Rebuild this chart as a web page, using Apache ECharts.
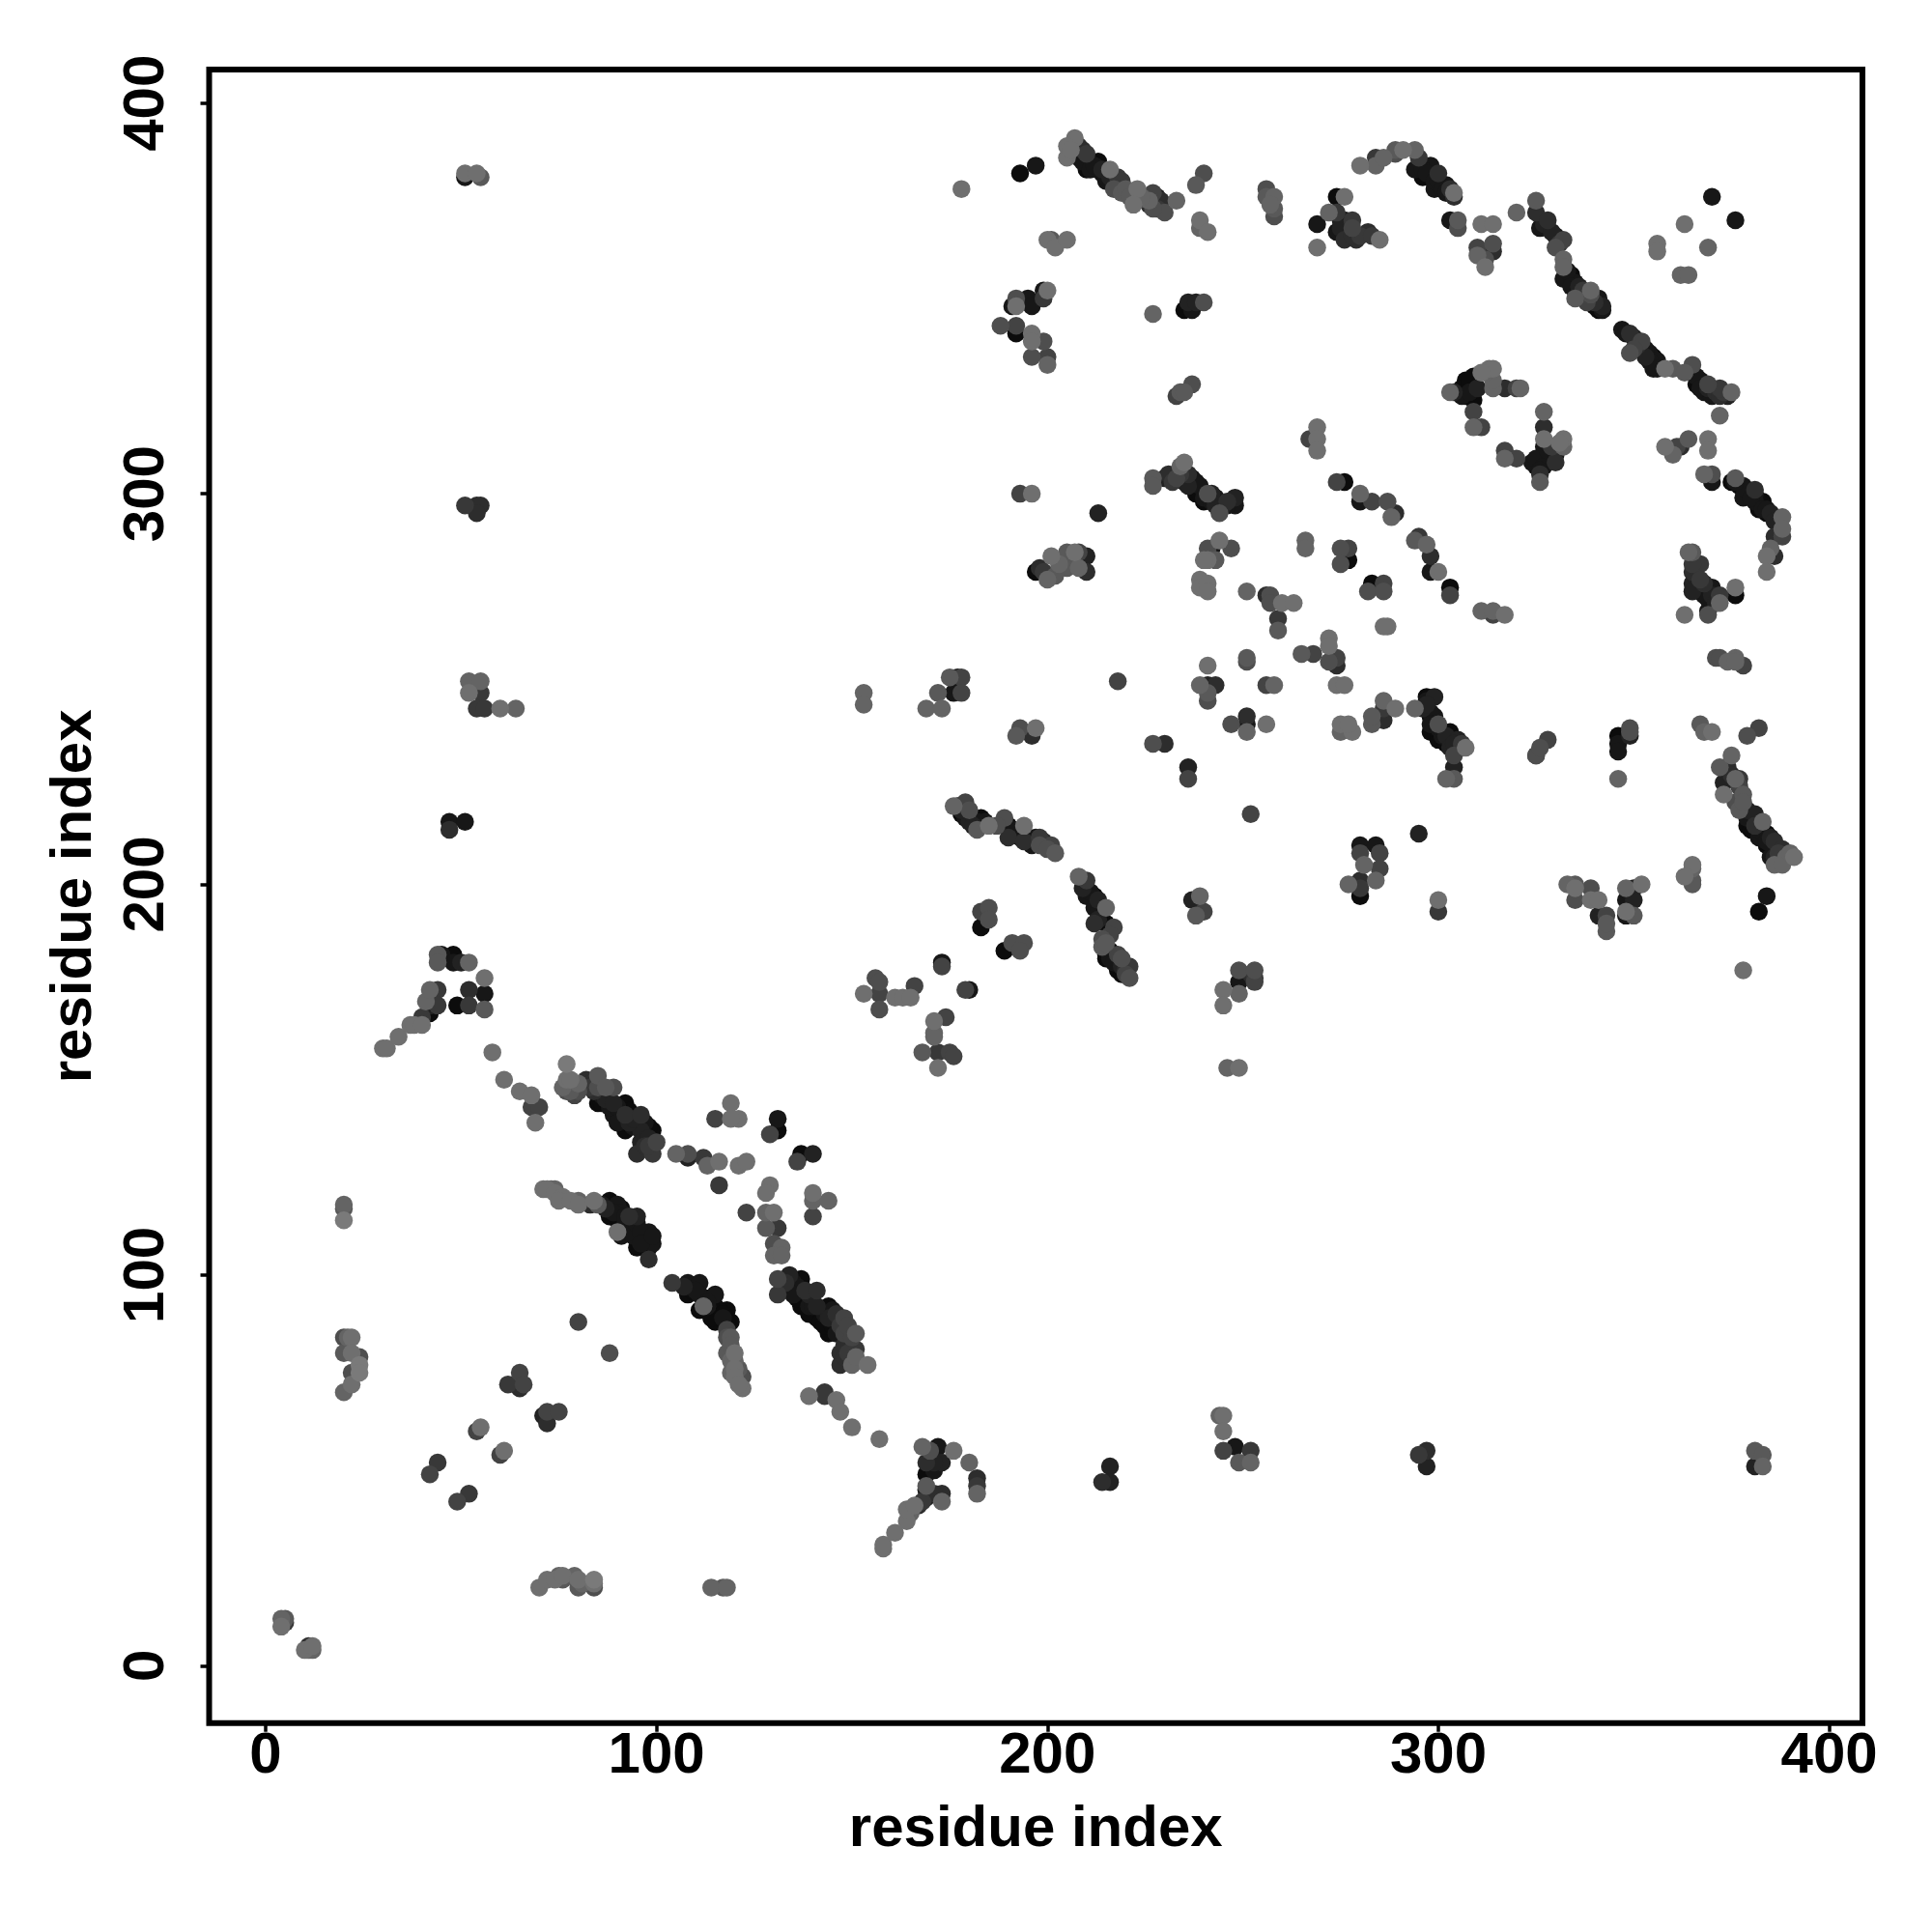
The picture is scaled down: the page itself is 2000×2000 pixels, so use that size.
<!DOCTYPE html>
<html><head><meta charset="utf-8">
<script src="https://cdn.jsdelivr.net/npm/echarts@6/dist/echarts.min.js"></script>
<style>html,body{margin:0;padding:0;background:#fff}#c{width:2000px;height:2000px}</style>
</head><body><div id="c"></div>
<script>
const xTicks=[0,100,200,300,400];
const yTicks=[0,100,200,300,400];
const xTitle='residue index';
const yTitle='residue index';
// [residue i, residue j, shade score: 0 = darkest, 10 = lightest]
const origin=[[4,12,8],[4,10,9],[5,12,7],[5,11,4],[10,4,9],[11,5,3],[11,4,8],[12,5,9],[12,4,8]];
const col20=[[20,118,8],[20,117,7],[20,114,10],[20,84,6],[21,84,8],[22,84,9],[20,80,7],[22,80,9],[24,79,6],[22,75,6],[24,77,10],[24,75,10],[22,72,9],[20,70,8]];
const diagLow=[[80,88,5],[88,80,6],[65,75,5],[62,72,4],[65,71,3],[66,72,5],[72,65,5],[71,64,2],[75,65,5],[72,62,3],[54,60,5],[55,61,9],[60,54,5],[61,55,9],[44,52,4],[42,49,5],[52,44,4],[49,42,5]];
const row20=[[70,20,9],[72,22,9],[74,22,9],[75,23,8],[76,23,9],[76,22,7],[79,23,8],[80,22,9],[81,21,8],[80,20,7],[84,20,6],[84,21,9],[84,22,10],[114,20,8],[117,20,7],[118,20,8]];
const bandA=[[71,122,9],[72,122,9],[73,122,8],[74,122,8],[74,121,9],[75,120,8],[76,120,9],[75,119,9],[78,119,9],[80,119,8],[80,118,9],[83,118,3],[84,119,9],[86,118,1],[88,119,0],[88,117,1],[88,115,0],[90,118,1],[91,116,1],[90,114,0],[90,111,9],[91,110,1],[92,113,1],[95,115,2],[94,112,1],[94,110,1],[95,107,0],[97,110,0],[98,111,1],[99,108,1],[98,107,0],[98,104,3],[85,118,7],[89,118,0],[89,116,1],[91,117,0],[92,115,1],[93,113,0],[93,111,1],[95,113,1],[96,111,1],[96,109,0],[96,108,1],[97,108,0],[98,109,0],[99,110,1],[92,111,0],[93,115,3],[87,117,2]];
const bandA2=[[104,98,4],[108,98,1],[111,98,1],[108,95,0],[111,95,1],[115,95,1],[111,91,0],[112,92,8],[114,91,0],[118,91,0],[115,88,0],[119,88,0],[118,84,6],[118,80,7],[120,80,9],[120,76,9],[119,75,8],[122,74,6],[122,71,9],[107,97,2],[109,97,0],[109,96,0],[110,96,1],[112,94,0],[113,94,0],[113,92,1],[115,92,0],[116,91,0],[116,89,0],[117,90,0],[113,93,1],[114,89,0],[117,89,1],[118,88,0],[118,86,5],[119,84,7],[119,82,7],[120,78,8],[121,76,7],[120,74,9],[121,72,9],[119,78,8]];
const bandB=[[77,154,10],[77,150,9],[77,147,6],[80,147,6],[82,150,3],[85,151,7],[89,148,6],[85,148,6],[85,144,0],[92,144,0],[89,141,1],[92,141,3],[96,141,3],[92,137,0],[99,137,0],[96,137,2],[100,134,5],[96,134,2],[95,131,3],[99,131,4],[83,148,4],[84,147,3],[86,146,1],[86,144,0],[87,145,2],[88,143,1],[89,144,2],[90,143,1],[90,141,0],[90,139,1],[91,139,0],[93,139,2],[93,142,0],[94,140,2],[94,138,1],[97,139,1],[98,138,0],[98,135,2],[97,133,3],[98,133,4],[78,147,7],[78,150,9],[80,149,8],[83,149,3],[87,148,7],[79,146,5],[76,148,8]];
const bandBend=[[105,131,8],[108,131,6],[108,130,2],[112,130,4],[113,128,8],[116,129,9],[116,123,4],[115,140,5],[119,144,9],[121,140,9],[119,140,9],[121,128,9],[123,129,9]];
const midLow=[[131,140,1],[131,137,0],[129,136,5],[137,131,0],[140,131,2],[136,129,5],[129,123,9],[128,121,9],[140,121,9],[140,119,8],[144,119,8],[140,115,5],[123,116,5]];
const bandC=[[128,116,8],[130,116,9],[128,112,7],[131,112,4],[130,108,6],[132,107,8],[130,105,8],[132,105,8]];
const bandD=[[131,99,5],[131,95,4],[134,100,2],[137,99,0],[138,96,3],[141,96,3],[137,92,0],[144,92,0],[141,89,0],[144,89,2],[148,89,5],[144,85,0],[148,85,5],[151,85,7],[151,81,4],[147,80,3],[147,77,3],[150,77,8],[154,77,9],[133,98,3],[135,98,1],[136,97,1],[135,95,1],[136,94,0],[139,95,2],[139,92,1],[139,90,0],[140,92,1],[141,92,2],[142,91,0],[142,88,0],[143,87,0],[143,90,1],[145,91,1],[146,90,3],[145,87,0],[146,85,1],[147,87,4],[149,87,5],[150,84,5],[148,82,3],[148,79,3],[149,80,4],[151,79,8]];
const tailD=[[139,69,9],[143,70,4],[143,69,4],[146,68,9],[147,65,9],[150,61,9],[157,58,9]];
const arm=[[30,158,9],[31,158,9],[34,161,9],[37,164,9],[38,164,9],[40,164,9],[40,166,4],[41,170,8],[42,173,8],[44,173,4],[42,169,2],[42,167,0],[44,169,4],[44,182,7],[45,182,1],[44,180,7],[48,182,0],[48,180,1],[50,180,2],[52,180,8],[56,176,9],[52,173,3],[56,172,1],[49,169,0],[52,169,4],[56,168,7]];
const tailArm=[[58,157,9],[61,150,9],[65,147,9],[68,146,9],[68,143,5],[70,143,5],[69,139,9]];
const isolatedLeft=[[51,382,9],[54,382,9],[51,381,1],[55,381,7],[51,297,4],[54,297,3],[55,297,3],[54,295,3],[47,216,1],[51,216,1],[47,214,3],[52,252,8],[55,252,8],[52,249,9],[55,249,4],[54,245,4],[56,245,4],[60,245,9],[64,245,8]];
const midCenter=[[153,172,9],[156,176,6],[157,175,6],[157,172,5],[157,168,6],[161,171,9],[163,171,9],[165,171,9],[166,174,5],[171,165,9],[171,162,8],[171,161,8],[174,166,5],[168,157,7],[172,157,4],[175,157,5],[176,156,5],[172,153,9],[179,173,5],[180,173,1],[173,180,1],[173,179,5]];
const midTop=[[153,249,8],[153,246,8],[175,253,7],[177,253,1],[178,253,5],[176,249,1],[178,249,5],[172,249,7],[169,245,8],[173,245,8]];
const low245=[[246,153,8],[249,153,9],[249,178,6],[253,178,6],[253,176,4],[249,175,1],[253,175,5],[252,177,3],[245,173,9],[249,172,8],[245,169,9],[244,64,8],[245,64,9],[245,60,9],[245,55,5],[248,56,1],[252,55,4],[249,52,7],[252,52,8]];
const lowArm=[[158,30,9],[158,31,9],[161,34,9],[164,37,9],[164,40,9],[167,41,3],[169,43,2],[169,45,1],[173,44,3],[173,42,8],[168,56,8],[172,56,1],[176,55,9],[169,52,3],[173,52,2],[169,49,0],[180,52,8],[182,48,3],[182,46,4],[182,44,8],[170,44,2],[171,44,3],[168,42,4],[165,39,8],[166,41,9],[170,55,6],[171,52,2],[171,50,1],[169,46,7]];
const lowRight=[[216,51,2],[214,47,3],[216,47,2],[295,54,4],[297,55,3],[297,51,2],[381,55,7],[383,54,7],[381,51,2],[383,51,8]];
const topBand=[[193,382,0],[197,384,1],[207,391,9],[205,389,9],[205,386,9],[208,389,3],[208,386,1],[210,387,4],[213,385,0],[210,383,0],[213,383,0],[216,383,9],[218,381,4],[215,380,1],[219,380,4],[219,377,7],[223,378,9],[222,374,9],[226,374,3],[227,377,5],[226,375,8],[229,375,3],[230,372,6],[233,375,8],[240,382,6],[238,379,7],[239,370,9],[241,367,9],[239,368,8],[206,388,9],[209,388,3],[209,385,1],[211,385,0],[211,383,1],[212,384,1],[214,382,1],[214,383,2],[215,381,1],[216,381,2],[217,380,1],[217,378,6],[218,379,3],[220,378,7],[221,376,7],[224,376,8],[223,375,6],[225,375,3],[228,373,4],[227,373,6],[228,376,2]];
const top256=[[256,378,6],[256,376,7],[258,376,8],[257,374,8],[258,373,7],[258,371,6]];
const top270=[[269,369,1],[274,376,0],[276,376,9],[272,372,8],[274,372,4],[276,370,1],[274,367,1],[278,368,5],[276,365,3],[282,367,3],[279,365,3],[285,365,9],[269,363,9],[275,370,2],[275,368,2],[277,366,1],[278,366,3],[280,366,4],[283,366,4],[278,370,4]];
const topArc=[[280,384,9],[284,384,8],[284,386,4],[286,386,8],[289,387,6],[291,388,9],[289,388,7],[294,388,8],[295,386,4],[298,384,1],[294,383,1],[300,382,3],[296,381,0],[302,379,1],[299,378,1],[304,377,9],[304,376,3],[296,383,1],[297,382,1],[298,381,0],[299,380,1],[300,380,1],[301,378,1],[300,379,0],[302,377,1],[303,378,3]];
const top305=[[303,370,1],[305,370,7],[305,368,6],[311,369,9],[314,369,9],[314,364,6],[310,363,5],[314,362,3],[310,361,8],[312,360,6],[312,358,9]];
const diagMain=[[320,372,8],[325,375,7],[325,372,3],[328,370,3],[326,368,1],[330,366,1],[332,365,5],[330,363,6],[332,360,8],[332,358,8],[333,356,0],[332,355,1],[335,354,1],[339,352,8],[335,350,7],[341,350,1],[340,348,0],[342,348,2],[347,342,1],[349,341,3],[352,339,5],[349,336,6],[354,336,1],[356,334,1],[355,332,1],[358,332,9],[360,332,7],[365,333,6],[363,331,7],[366,330,1],[366,328,0],[369,328,5],[368,326,1],[371,326,3],[373,326,4],[375,326,8],[374,325,2],[372,320,8],[327,369,2],[329,367,2],[331,364,4],[333,357,1],[334,356,0],[334,353,1],[336,353,2],[337,352,4],[337,351,3],[338,349,5],[340,349,3],[339,351,6],[341,347,0],[342,347,1],[348,341,1],[350,340,2],[351,338,3],[350,337,5],[351,337,2],[353,337,1],[353,335,2],[355,335,0],[354,334,1],[356,332,1],[367,329,1],[367,327,1],[369,327,2],[370,325,1],[372,325,3],[372,327,4]];
const loopTop=[[303,326,8],[304,326,2],[307,329,0],[307,325,0],[309,330,0],[309,328,0],[309,324,0],[313,332,9],[314,332,9],[314,327,8],[314,329,8],[317,327,3],[320,327,5],[321,327,8],[309,321,5],[309,317,8],[311,317,5],[306,327,0],[306,325,1],[308,327,0],[308,329,0],[308,326,1],[310,327,2],[311,331,9],[312,331,8]];
const loopLow=[[317,311,5],[317,309,8],[320,309,5],[324,308,1],[326,309,0],[328,309,1],[330,310,1],[326,305,3],[326,303,7],[327,312,1],[327,321,8],[327,317,3],[327,314,9],[332,314,9],[332,312,8],[325,307,0],[325,309,1],[327,307,1],[328,311,1],[329,312,4],[330,308,3],[331,313,9],[326,306,1]];
const right358=[[358,312,9],[360,310,8],[361,312,5],[364,314,7],[362,312,3],[369,314,9],[369,311,9],[368,305,8],[370,305,6],[370,303,1]];
const rightCurve=[[375,303,0],[376,304,7],[378,302,1],[378,299,1],[381,300,1],[383,298,0],[381,298,1],[382,296,0],[385,295,2],[388,294,8],[388,291,8],[388,289,5],[386,289,3],[385,286,8],[384,284,9],[386,284,3],[384,280,9],[377,302,0],[379,301,1],[380,299,1],[381,301,3],[382,298,0],[383,296,1],[384,296,1],[386,293,2],[384,295,0],[376,303,1]];
const topIso=[[370,376,1],[376,370,1],[363,369,9],[356,364,9],[356,362,9],[369,363,8],[362,356,8],[364,356,8],[227,346,8],[178,378,9]];
const c295=[[295,289,4],[294,288,7],[297,287,8],[298,284,3],[298,280,1],[300,280,9],[303,276,0],[303,274,5],[311,270,8],[314,270,8],[314,269,5],[317,269,9]];
const c365=[[364,285,8],[365,285,7],[367,282,4],[365,280,3],[365,277,2],[367,278,4],[367,275,0],[370,276,1],[372,274,4],[372,272,8],[376,274,0],[376,276,9],[369,270,1],[369,269,6],[363,269,9],[366,278,2],[366,276,1],[368,277,3],[368,274,1],[369,273,1],[370,274,2],[371,272,2],[365,282,4],[365,275,2]];
const row258=[[371,258,6],[372,258,6],[376,258,8],[374,257,8],[378,256,5],[376,257,8]];
const band300=[[297,248,0],[299,248,2],[294,245,8],[296,245,2],[299,243,1],[300,241,6],[298,239,0],[303,239,0],[302,238,2],[300,237,0],[305,237,2],[307,235,9],[306,235,3],[304,233,5],[304,230,2],[302,227,8],[304,227,7],[297,247,1],[297,246,2],[298,244,1],[298,243,0],[298,241,1],[299,240,0],[300,240,1],[301,239,0],[301,238,1],[303,237,1],[303,235,2],[305,235,1],[304,236,2],[306,236,4],[302,236,0]];
const c325=[[325,233,6],[326,235,6],[328,237,5],[325,233,3]];
const c347=[[346,238,0],[346,236,1],[346,234,1],[349,240,6],[349,238,2],[349,239,6],[346,227,8]];
const c367=[[367,241,7],[368,239,8],[370,239,9],[382,240,5],[379,238,6]];
const rightBand=[[375,233,8],[372,230,7],[374,230,3],[377,227,4],[373,226,2],[373,223,9],[376,227,8],[378,223,7],[377,219,7],[379,219,2],[381,218,2],[383,216,8],[379,215,0],[384,213,0],[382,212,1],[386,211,3],[384,210,0],[388,209,3],[385,207,1],[389,207,8],[391,207,9],[386,205,8],[388,205,8],[379,217,1],[380,216,0],[380,214,0],[381,215,3],[382,214,1],[382,213,0],[383,212,0],[384,211,1],[385,212,2],[385,210,0],[387,209,2],[387,208,4],[386,207,2],[390,208,8],[375,228,3],[377,225,5],[378,221,7],[376,221,6]];
const iso295=[[295,213,2],[384,197,1],[382,193,0],[378,178,9],[300,196,9],[300,193,4]];
const vLeft=[[333,200,8],[335,200,7],[335,199,9],[335,196,6],[339,199,6],[339,196,9],[341,196,9],[341,192,2],[343,192,5],[343,188,7],[343,190,7]];
const vRight=[[352,200,9],[350,199,2],[348,199,8],[348,196,1],[350,196,2],[348,192,1],[348,193,9],[350,192,7]];
const c364=[[365,205,9],[363,202,9],[365,204,8],[365,201,7],[365,200,7]];
const c200=[[197,280,0],[199,280,4],[200,278,8],[201,284,9],[203,282,8],[205,285,7],[205,281,7],[207,285,9],[208,285,5],[210,284,2],[210,280,3],[203,281,6],[208,281,8],[206,283,7],[204,283,6],[198,281,3],[202,279,7]];
const c240=[[244,288,9],[241,286,6],[247,286,6],[242,286,1],[241,283,9],[243,283,7],[240,283,9],[239,278,9],[239,276,9],[241,277,9],[241,275,9]];
const c251=[[251,275,8],[266,288,8],[266,286,8],[275,286,6],[277,286,5],[275,282,6],[277,283,0],[283,277,0],[286,277,5],[282,275,6],[286,275,6]];
const c256=[[256,274,3],[257,274,6],[260,272,9],[263,272,9],[257,272,6],[259,268,4],[259,265,7],[287,266,9],[286,266,9]];
const c270=[[272,263,9],[272,261,9],[265,259,7],[268,259,5],[274,258,5],[274,256,3],[272,257,6],[274,251,9],[276,251,9],[251,258,7],[251,257,6]];
const c241=[[241,256,9],[239,251,8],[241,251,2],[243,251,3],[241,247,6],[241,249,7],[258,251,8],[256,251,5],[218,252,5]];
const c250=[[247,241,6],[251,243,3],[251,241,1],[251,239,8],[256,241,9],[275,241,9],[278,239,9],[277,241,9],[275,239,8],[283,241,7],[283,243,7],[286,242,3],[285,243,2],[286,247,8],[286,245,4],[289,245,9]];
const c193=[[193,240,6],[192,238,7],[197,240,9],[196,238,3],[227,236,6],[230,236,3],[236,230,2],[236,227,5],[252,218,5]];
const midBand=[[176,220,8],[177,220,0],[179,221,5],[178,218,0],[180,219,6],[180,216,2],[183,217,0],[182,214,7],[185,215,9],[189,217,6],[190,215,0],[190,212,3],[194,215,9],[193,212,0],[197,212,1],[196,210,1],[198,210,6],[201,210,5],[202,208,7],[184,216,1],[187,215,6],[191,214,1],[192,213,0],[195,212,1],[194,211,3],[199,211,3],[198,212,4],[200,209,6],[181,215,2],[182,216,1],[178,219,2],[179,217,1]];
const midBand2=[[208,202,8],[210,201,4],[210,197,1],[212,197,0],[212,194,1],[215,194,8],[212,190,3],[215,190,0],[217,189,5],[214,184,7],[216,183,0],[219,181,6],[215,181,0],[218,178,0],[221,179,4],[221,176,6],[209,199,2],[211,198,1],[213,196,2],[213,193,1],[213,191,2],[216,187,5],[214,186,6],[215,185,7],[215,182,0],[216,181,1],[217,180,1],[218,182,5],[219,179,2],[219,177,0],[220,178,3],[220,177,5]];
const c183=[[183,193,5],[185,194,6],[185,191,6],[183,189,0],[189,183,0],[191,185,6],[194,185,6],[193,183,6],[239,197,8],[237,196,2],[240,193,5],[238,192,7]];
const c280=[[280,210,1],[284,210,1],[285,208,5],[280,208,5],[285,204,5],[281,205,8],[284,201,8],[280,201,3],[277,200,8],[280,199,4],[280,197,0]];
const top190=[[193,300,5],[196,300,9],[213,295,2],[235,308,9],[234,307,8],[227,304,7],[227,302,7],[230,304,2],[233,304,5],[236,305,3],[235,303,1],[238,303,1],[241,300,6],[238,300,0],[243,299,1],[240,298,0],[245,297,2],[248,299,2],[248,297,1],[244,295,6],[231,305,3],[232,303,4],[234,305,4],[237,304,1],[236,302,2],[239,302,1],[239,300,0],[240,299,1],[241,299,0],[242,298,1],[243,297,2],[242,300,2],[246,297,1],[246,298,3]];
const c234=[[234,326,7],[237,328,6],[233,325,5],[235,326,7],[235,347,0],[236,349,2],[237,347,1],[238,349,2],[240,349,6]];
const c192=[[192,350,6],[191,348,1],[192,348,9],[195,350,1],[196,348,1],[199,350,4],[199,352,1],[200,352,9],[188,343,6],[192,343,5],[192,341,0],[196,341,9],[196,339,9],[199,339,6],[196,335,6],[200,335,5],[200,333,8],[200,365,9],[202,363,9],[201,365,7],[205,365,9]];
const c274=[[274,303,5],[276,303,0],[280,300,8],[280,298,1],[283,298,5],[287,298,6],[289,295,3],[288,294,8],[269,317,9],[269,314,9],[267,314,5],[269,311,9]];
const allClusters=[origin,col20,diagLow,row20,bandA,bandA2,bandB,bandBend,midLow,bandC,bandD,tailD,arm,tailArm,isolatedLeft,midCenter,midTop,low245,lowArm,lowRight,topBand,top256,top270,topArc,top305,diagMain,loopTop,loopLow,right358,rightCurve,topIso,c295,c365,row258,band300,c325,c347,c367,rightBand,iso295,vLeft,vRight,c364,c200,c240,c251,c256,c270,c241,c250,c193,midBand,midBand2,c183,c280,top190,c234,c192,c274];
const points=allClusters.flat().sort((a,b)=>a[2]-b[2]);
const font='"Liberation Sans"';
const chart=echarts.init(document.getElementById('c'),null,{renderer:'canvas'});
const axisBase=(ticks)=>({type:'value',splitLine:{show:false},axisLine:{show:false,onZero:false},
  axisTick:{show:true,length:9,inside:false,customValues:ticks,lineStyle:{color:'#000',width:3.5}},
  nameLocation:'middle',nameTextStyle:{fontFamily:font,fontWeight:'bold',fontSize:60,color:'#000'}});
chart.setOption({
  animation:false,backgroundColor:'#fff',
  grid:{left:216.5,top:72,width:1711.5,height:1711.7,show:true,borderWidth:6,borderColor:'#000',backgroundColor:'#fff',containLabel:false},
  xAxis:Object.assign(axisBase(xTicks),{min:-14.46,max:408.5,name:xTitle,nameGap:81,
    axisLabel:{customValues:xTicks,margin:5,fontFamily:font,fontWeight:'bold',fontSize:60,color:'#000'}}),
  yAxis:Object.assign(axisBase(yTicks),{min:-14.69,max:408.58,name:yTitle,nameGap:109,
    axisLabel:{customValues:yTicks,rotate:90,margin:34,align:'center',verticalAlign:'bottom',fontFamily:font,fontWeight:'bold',fontSize:60,color:'#000'}}),
  visualMap:{show:false,type:'continuous',dimension:2,min:0,max:10,seriesIndex:0,inRange:{color:['#0c0c0c','#7a7a7a']}},
  series:[{type:'scatter',data:points,symbol:'circle',symbolSize:18.5,large:false,progressive:0,silent:true,itemStyle:{opacity:1}}]
});
</script></body></html>
